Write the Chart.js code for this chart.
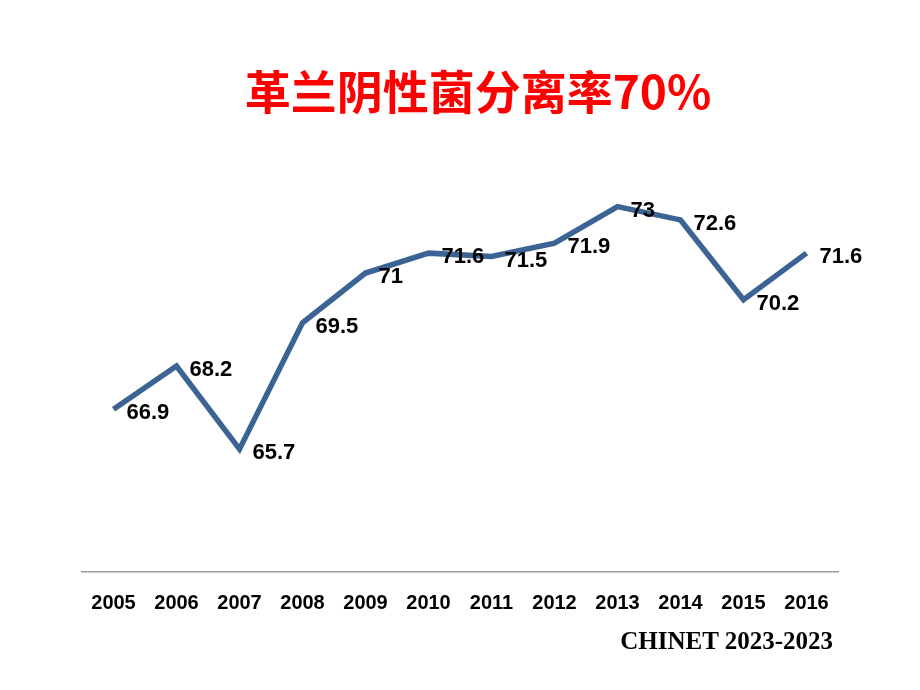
<!DOCTYPE html>
<html>
<head>
<meta charset="utf-8">
<script src="https://cdn.jsdelivr.net/npm/chart.js@4"></script>
<style>
    body { margin: 0; background: #fff; }
    #wrap { position: relative; width: 920px; height: 690px; }
    #title {
        position: absolute; left: 18px; width: 920px; top: 61px;
        text-align: center; color: #ff0000;
        font: bold 46px "Noto Sans CJK SC", sans-serif; line-height: 56px;
    }
    #source {
        position: absolute; right: 87px; top: 627px;
        font: bold 25px "Liberation Serif", serif; color: #000;
    }
</style>
</head>
<body>
<div id="wrap">
    <canvas id="chart" width="920" height="690"></canvas>
    <div id="title">革兰阴性菌分离率70%</div>
    <div id="source">CHINET 2023-2023</div>
</div>
<script>
const years = ['2005', '2006', '2007', '2008', '2009', '2010', '2011', '2012', '2013', '2014', '2015', '2016'];
const rates = [66.9, 68.2, 65.7, 69.5, 71, 71.6, 71.5, 71.9, 73, 72.6, 70.2, 71.6];

// value labels to the right of each point
const pointLabels = {
    id: 'pointLabels',
    afterDatasetsDraw(chart) {
        const ctx = chart.ctx;
        const meta = chart.getDatasetMeta(0);
        ctx.save();
        ctx.font = 'bold 22px "Liberation Sans", Arial, sans-serif';
        ctx.fillStyle = '#000';
        ctx.textAlign = 'left';
        ctx.textBaseline = 'middle';
        meta.data.forEach((pt, i) => {
            ctx.fillText(String(rates[i]), pt.x + 13, pt.y + 4);
        });
        ctx.restore();
    }
};

new Chart(document.getElementById('chart'), {
    type: 'line',
    data: {
        labels: years,
        datasets: [{
            data: rates,
            borderColor: '#3b6494',
            borderWidth: 5.5,
            pointRadius: 0,
            tension: 0
        }]
    },
    options: {
        responsive: false,
        animation: false,
        layout: { padding: { left: 82, right: 82, top: 107, bottom: 0 } },
        plugins: { legend: { display: false }, tooltip: { enabled: false } },
        scales: {
            x: {
                offset: true,
                grid: { display: false, drawTicks: false },
                border: { display: true, color: '#9a9a9a', width: 1.5 },
                ticks: {
                    color: '#000',
                    padding: 19,
                    font: { family: '"Liberation Sans", Arial, sans-serif', size: 20, weight: 'bold' }
                },
                afterFit(s) { s.height = 118; }
            },
            y: {
                display: false,
                min: 62,
                max: 76
            }
        }
    },
    plugins: [pointLabels]
});
</script>
</body>
</html>
